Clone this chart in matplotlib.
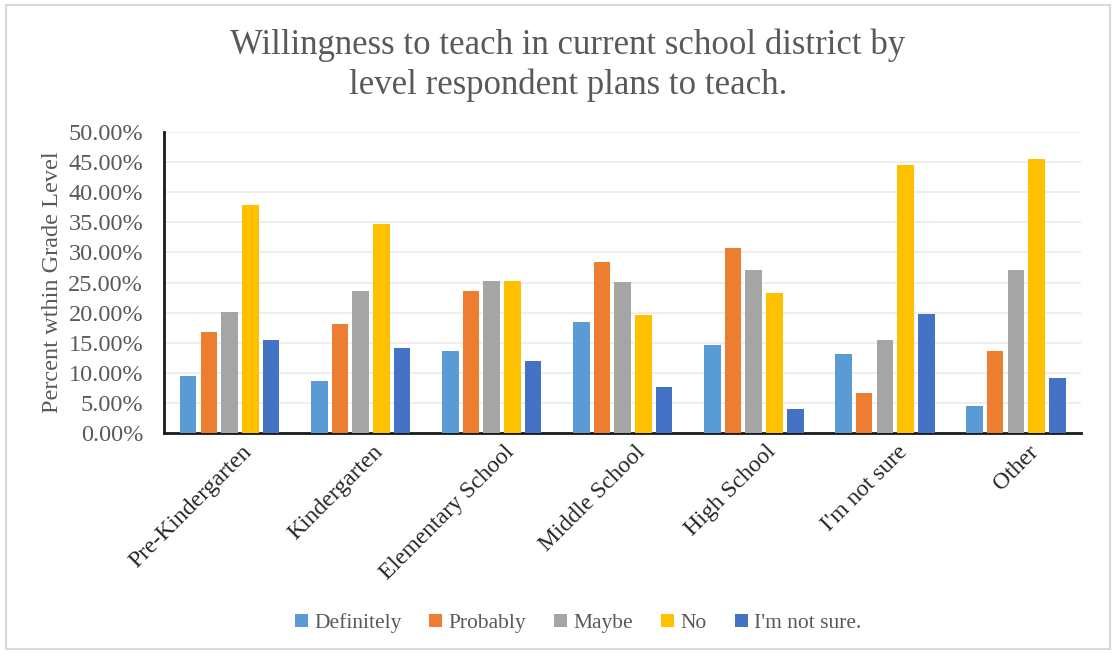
import numpy as np
import matplotlib.pyplot as plt
from matplotlib.patches import Rectangle
from matplotlib.transforms import ScaledTranslation

# data (fractions)
levels = ['Pre-Kindergarten', 'Kindergarten', 'Elementary School', 'Middle School',
          'High School', "I'm not sure", 'Other']
definitely = [0.095, 0.086, 0.137, 0.184, 0.146, 0.132, 0.045]
probably = [0.167, 0.181, 0.236, 0.284, 0.308, 0.066, 0.137]
maybe = [0.201, 0.236, 0.253, 0.251, 0.270, 0.155, 0.270]
no = [0.379, 0.348, 0.253, 0.196, 0.233, 0.445, 0.455]
not_sure = [0.155, 0.142, 0.120, 0.077, 0.039, 0.198, 0.091]

series = [('Definitely', definitely), ('Probably', probably), ('Maybe', maybe),
          ('No', no), ("I'm not sure.", not_sure)]
colors = ['#5B9BD5', '#ED7D31', '#A5A5A5', '#FFC000', '#4472C4']

plt.rcParams['font.family'] = ['Liberation Serif', 'DejaVu Serif']

fig = plt.figure(figsize=(11.16, 6.54), dpi=100)
ax = fig.add_axes([0.147, 0.338, 0.822, 0.46])

x = np.arange(len(levels))
step = 0.158
width = 0.127
for i, (name, vals) in enumerate(series):
    ax.bar(x + (i - 2) * step, vals, width, color=colors[i], label=name, zorder=3)

ax.set_xlim(-0.5, len(levels) - 0.5)
ax.set_ylim(0, 0.5)
ax.set_yticks(np.arange(0, 0.51, 0.05))
ax.set_yticklabels(['%.2f%%' % (v * 100) for v in np.arange(0, 0.51, 0.05)])
ax.yaxis.grid(True, color='#ebebeb', linewidth=1.2, zorder=0)
ax.tick_params(axis='y', length=0, labelsize=17.5, labelcolor='#595959', pad=15)
ax.set_xticks(x)
ax.set_xticklabels(levels, rotation=45, ha='right', rotation_mode='anchor',
                   fontsize=17, color='#262626')
ax.tick_params(axis='x', length=0, pad=6)
shift = ScaledTranslation(12 / 100, 0, fig.dpi_scale_trans)
for lab in ax.get_xticklabels():
    lab.set_transform(lab.get_transform() + shift)

for s in ['top', 'right']:
    ax.spines[s].set_visible(False)
ax.spines['left'].set_linewidth(2)
ax.spines['bottom'].set_linewidth(2)
ax.spines['left'].set_color('#1a1a1a')
ax.spines['bottom'].set_color('#1a1a1a')

ax.set_ylabel('Percent wthin Grade Level', fontsize=17.5, color='#595959', labelpad=4)

fig.text(0.509, 0.9, 'Willingness to teach in current school district by\nlevel respondent plans to teach.',
         ha='center', va='center', fontsize=25, color='#595959', linespacing=1.28)

leg = fig.legend(loc='center', bbox_to_anchor=(0.518, 0.047), ncol=5, frameon=False,
                 fontsize=15.5, handlelength=0.6, handleheight=0.6, handletextpad=0.3,
                 columnspacing=1.3)
for t in leg.get_texts():
    t.set_color('#595959')

fig.patches.append(Rectangle((0.005, 0.008), 0.99, 0.984, transform=fig.transFigure,
                             fill=False, edgecolor='#d9d9d9', linewidth=1.5))

fig.savefig('out.png', dpi=100)
